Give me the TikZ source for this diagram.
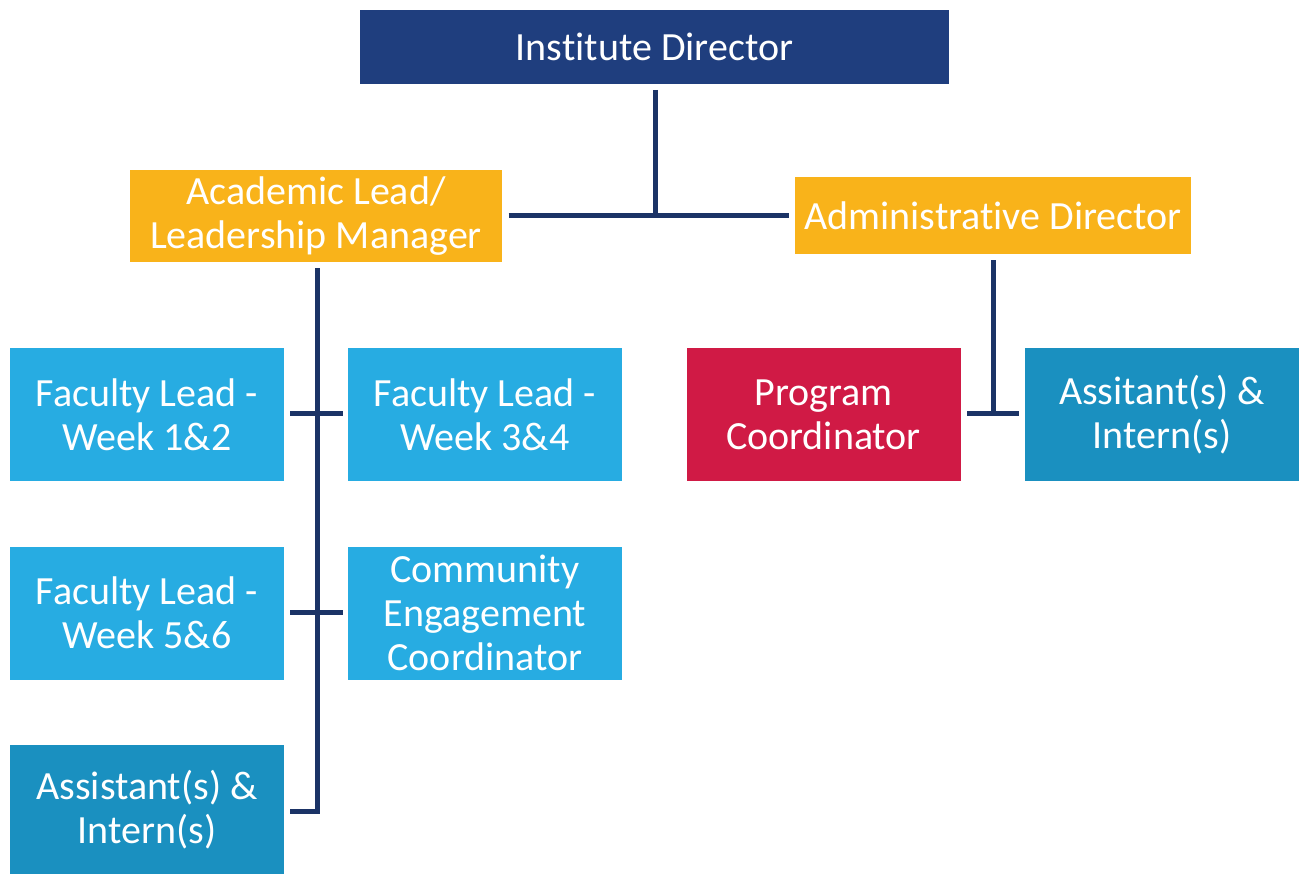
\documentclass[tikz,border=0pt]{standalone}
\usepackage{fontspec}
\setmainfont[Ligatures=NoCommon]{Carlito}
\definecolor{navybox}{HTML}{1F3E7E}
\definecolor{navyline}{HTML}{1B3366}
\definecolor{orangebox}{HTML}{F9B31A}
\definecolor{lightbox}{HTML}{27ACE2}
\definecolor{midbox}{HTML}{1A90C0}
\definecolor{redbox}{HTML}{D01A45}
\begin{document}
\begin{tikzpicture}[x=0.75pt,y=-0.75pt,
  box/.style={inner sep=0pt, outer sep=0pt, align=center, text=white,
    font=\fontsize{30}{33}\selectfont},
  small/.style={box, minimum width=205.5pt, minimum height=99.75pt},
  link/.style={draw=navyline, line width=3.75pt}]
\useasboundingbox (0,0) rectangle (1300,874);
\node[box, fill=navybox, minimum width=441.75pt, minimum height=55.5pt] (dir) at (654.5,47) {Institute Director};
\node[box, fill=orangebox, minimum width=279pt, minimum height=69pt] (acad) at (316,216) {Academic Lead/\\Leadership Manager};
\node[box, fill=orangebox, minimum width=297pt, minimum height=57.75pt] (admin) at (993,215.5) {Administrative Director};
\node[small, fill=lightbox] (fl12) at (147,414.5) {Faculty Lead -\\Week 1\&2};
\node[small, fill=lightbox] (fl34) at (485,414.5) {Faculty Lead -\\Week 3\&4};
\node[small, fill=lightbox] (fl56) at (147,613) {Faculty Lead -\\Week 5\&6};
\node[small, fill=lightbox] (cec) at (485,613) {Community\\Engagement\\Coordinator};
\node[box, fill=midbox, minimum width=205.5pt, minimum height=96.75pt] (asst) at (147,809.5) {Assistant(s) \&\\Intern(s)};
\node[small, fill=redbox] (pc) at (823.5,414.5) {Program\\Coordinator};
\node[small, fill=midbox] (asst2) at (1162,414.5) {Assitant(s) \&\\Intern(s)};
\coordinate (j1) at (655,215);
\coordinate (sp) at (317,268);
\draw[link] ([yshift=-4.5pt]dir.south -| j1) -- (j1);
\draw[link] ([xshift=5pt]acad.east |- j1) -- ([xshift=-4.5pt]admin.west |- j1);
\draw[link] (sp) -- (sp |- 0,811) -- ([xshift=4.5pt]asst.east |- 0,811);
\draw[link] ([xshift=4.5pt]fl12.east |- 0,413) -- ([xshift=-4pt]fl34.west |- 0,413);
\draw[link] ([xshift=4.5pt]fl56.east |- 0,612) -- ([xshift=-4pt]cec.west |- 0,612);
\draw[link] ([yshift=-4.5pt]admin.south) -- (admin.south |- 0,413);
\draw[link] ([xshift=5pt]pc.east |- 0,413) -- ([xshift=-4.5pt]asst2.west |- 0,413);
\end{tikzpicture}
\end{document}
